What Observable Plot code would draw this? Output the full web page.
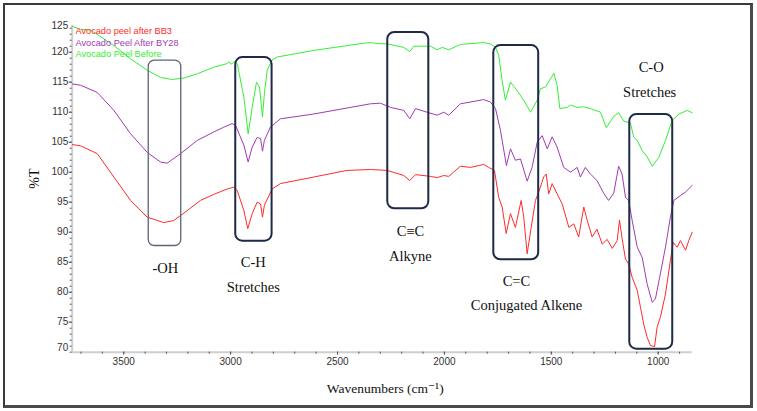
<!DOCTYPE html>
<html><head><meta charset="utf-8">
<script src="https://cdn.jsdelivr.net/npm/d3@7"></script>
<script src="https://cdn.jsdelivr.net/npm/@observablehq/plot@0.6"></script>
<style>
html,body{margin:0;padding:0;background:#fff;}
#wrap{position:relative;width:757px;height:411px;overflow:hidden;background:#fff;}
#frame{position:absolute;left:3px;top:3px;width:750px;height:405px;box-sizing:border-box;border:2px solid #3a3a3a;border-right:3px solid #4a4a4a;border-bottom:3px solid #4a4a4a;pointer-events:none;}
#chart{position:absolute;left:0;top:0;}
</style></head><body>
<div id="wrap"><div id="chart"></div><div id="frame"></div></div>
<script>
// ---- series ----
const seriesNames = ["Avocado peel after BB3", "Avocado Peel After BY28", "Avocado Peel Before"];
const seriesColors = ["#ff2b2b", "#a13ab3", "#33f033"];

const wnBefore = [3740,3702,3655,3546,3468,3390,3328,3273,3219,3156,3079,3016,3009,2996,2985,2969,2938,2918,2899,2879,2865,2851,2842,2829,2806,2782,2611,2455,2377,2346,2299,2268,2190,2162,2143,2065,2034,2010,1980,1925,1816,1785,1761,1746,1730,1715,1691,1660,1629,1597,1566,1551,1527,1488,1473,1460,1426,1410,1379,1348,1317,1270,1243,1208,1185,1161,1130,1114,1098,1075,1052,1028,997,966,935,903,864,841];
const tBefore  = [124.3,123.8,123.7,121.1,118.9,117.0,115.8,115.45,115.7,116.4,117.5,118.1,118.4,118.0,118.4,118.1,112.5,106.4,110.8,115.0,114.2,109.2,113.1,117.0,118.7,119.2,120.3,121.1,121.5,121.6,121.4,121.4,120.8,120.1,121.0,121.0,120.4,120.8,120.4,121.3,121.6,121.4,120.8,119.5,115.3,112.0,115.0,113.6,112.0,110.0,112.0,113.9,114.2,116.5,114.5,110.6,110.8,111.2,110.8,110.9,110.6,110.0,107.4,109.3,109.9,108.5,108.2,105.8,105.3,103.6,102.6,101.0,102.5,105.3,108.6,109.7,110.3,109.9];

const wnBY28 = [3740,3702,3624,3546,3468,3390,3328,3297,3234,3156,3079,3032,2993,2977,2938,2918,2899,2876,2860,2851,2842,2814,2767,2611,2455,2346,2299,2252,2190,2162,2135,2081,2034,2003,1980,1925,1816,1785,1761,1738,1710,1691,1668,1644,1613,1590,1566,1543,1519,1496,1473,1442,1410,1379,1364,1341,1317,1286,1255,1232,1208,1185,1169,1153,1138,1122,1098,1075,1052,1028,1013,993,966,943,927,896,872,841];
const tBY28  = [114.7,114.5,113.3,110.3,106.4,103.3,101.7,101.5,103.1,105.3,106.7,107.5,108.1,107.8,104.5,101.7,104.2,105.8,105.6,103.5,105.3,107.5,108.9,109.7,110.7,111.4,111.5,110.8,110.3,108.9,110.6,110.0,109.5,110.0,109.5,111.4,112.1,111.7,110.6,107.0,101.1,103.9,102.0,102.2,98.5,100.8,105.0,106.1,103.9,105.9,104.2,100.8,100.0,100.8,99.2,100.8,99.7,98.6,96.5,95.3,96.5,101.0,99.7,95.8,95.3,92.0,87.5,85.8,81.4,78.3,78.9,82.5,87.5,92.5,95.3,96.1,96.7,97.8];

const wnBB3 = [3740,3702,3624,3546,3468,3390,3313,3266,3203,3141,3079,3016,2985,2969,2938,2920,2899,2876,2860,2851,2842,2806,2767,2611,2455,2346,2268,2190,2162,2135,2065,2034,2003,1980,1925,1878,1816,1793,1766,1746,1730,1711,1691,1668,1641,1629,1613,1594,1574,1551,1536,1524,1512,1496,1473,1449,1418,1395,1372,1348,1332,1309,1286,1262,1239,1215,1192,1181,1169,1153,1138,1122,1098,1083,1068,1052,1036,1017,1005,990,966,943,930,911,896,872,857,841];
const tBB3  = [104.6,104.4,103.1,99.2,95.3,92.5,91.6,91.95,93.6,95.3,96.3,97.2,97.5,96.95,93.6,90.6,93.1,95.0,94.7,92.5,94.5,97.2,98.1,99.2,100.3,100.45,100.3,99.45,98.6,99.6,99.3,99.1,99.45,99.3,101.0,100.8,101.3,100.8,100.3,95.8,94.2,89.8,93.1,90.8,95.3,92.5,86.4,90.8,95.3,97.5,99.2,99.7,96.4,98.1,96.4,94.7,90.8,91.4,89.2,94.2,91.95,89.2,90.5,88.0,88.8,87.3,88.6,92.0,89.0,85.5,84.7,82.5,80.3,77.5,74.7,72.5,71.1,70.95,74.2,75.8,79.7,85.3,88.3,87.5,88.6,87.0,88.6,90.0];

// ---- axes ----
const xTicks = [3500, 3000, 2500, 2000, 1500, 1000];
const xMinor = d3.range(900, 3701, 100);
const yTicks = [75, 80, 85, 90, 95, 100, 105, 110, 115, 120];
const yMinor = d3.range(70, 125, 1);

// ---- boxes & annotations ----
const boxName = ["OH", "CH", "Alkyne", "Alkene", "CO"];
const boxX1 = [3383, 2976, 2265, 1769, 1133];
const boxX2 = [3231, 2806, 2073, 1559, 932];
const boxY1 = [118.6, 119.1, 123.3, 121.1, 109.6];
const boxY2 = [87.7, 88.5, 93.9, 85.4, 70.5];

const annText = ["-OH", "C-H", "Stretches", "C\u2261C", "Alkyne", "C=C", "Conjugated Alkene", "C-O", "Stretches"];
const annX = [3305, 2894, 2894, 2159, 2159, 1663, 1616, 1033, 1040];
const annY = [83.95, 84.95, 80.8, 90.2, 85.95, 81.8, 77.8, 117.4, 113.3];

const spectra = [
  ...wnBefore.map((w, i) => ({series: seriesNames[2], wn: w, t: tBefore[i]})),
  ...wnBY28.map((w, i) => ({series: seriesNames[1], wn: w, t: tBY28[i]})),
  ...wnBB3.map((w, i) => ({series: seriesNames[0], wn: w, t: tBB3[i]}))
];
const boxes = boxName.map((n, i) => ({name: n, x1: boxX1[i], x2: boxX2[i], y1: boxY1[i], y2: boxY2[i]}));
const anns = annText.map((t, i) => ({text: t, x: annX[i], y: annY[i]}));

const serif = "'Liberation Serif', 'DejaVu Serif', serif";
const sans = "'Liberation Sans', Arial, sans-serif";

const chart = Plot.plot({
  width: 757, height: 411,
  marginLeft: 71.7, marginRight: 65.3, marginTop: 24.7, marginBottom: 59.3,
  x: {domain: [3741, 841]},
  y: {domain: [70, 124.5]},
  color: {domain: seriesNames, range: seriesColors},
  style: {fontFamily: sans, background: "transparent", overflow: "visible"},
  marks: [
    Plot.ruleY([70], {stroke: "#cfcfcf", strokeWidth: 2}),
    Plot.ruleX([3741], {stroke: "#cfcfcf", strokeWidth: 2}),
    Plot.axisX({ticks: xMinor, tickSize: 2, tickFormat: () => "", stroke: "#555", label: null}),
    Plot.axisX({ticks: xTicks, tickSize: 3, tickPadding: 3, fontSize: 10, fill: "#333", stroke: "#555", label: null, tickFormat: d => String(d)}),
    Plot.axisY({ticks: yMinor, tickSize: 2, tickFormat: () => "", stroke: "#555", label: null}),
    Plot.axisY({ticks: yTicks, tickSize: 3, tickPadding: 1, fontSize: 10, fill: "#333", stroke: "#555", label: null}),
    Plot.axisY({ticks: [125], tickSize: 0, tickPadding: 4, dy: 4, fontSize: 10, fill: "#333", label: null}),
    Plot.axisY({ticks: [70], tickSize: 0, tickPadding: 4, dy: -4, fontSize: 10, fill: "#333", label: null}),
    Plot.line(spectra, {x: "wn", y: "t", z: "series", stroke: "series", strokeWidth: 1}),
    Plot.rect(boxes, {filter: d => d.name === "OH", x1: "x1", x2: "x2", y1: "y1", y2: "y2", rx: 6, fill: "none", stroke: "#5b6478", strokeWidth: 1.3}),
    Plot.rect(boxes, {filter: d => d.name !== "OH", x1: "x1", x2: "x2", y1: "y1", y2: "y2", rx: 7, fill: "none", stroke: "#1d2a48", strokeWidth: 2}),
    Plot.text(anns, {x: "x", y: "y", text: "text", fontFamily: serif, fontSize: 14.5, fill: "#111"}),
    ...seriesNames.map((n, i) => Plot.text([n], {frameAnchor: "top-left", dx: 3.3, dy: 2.6 + i * 11.35, fill: seriesColors[i], fontSize: 9.2, fontFamily: sans, textAnchor: "start", style: "letter-spacing:0.5px"})),
    Plot.text(["%T"], {frameAnchor: "left", dx: -38, rotate: -90, fontFamily: serif, fontSize: 14, fill: "#111"}),
    Plot.text(["Wavenumbers (cm\u207B\u00B9)"], {frameAnchor: "bottom", dx: 3, dy: 41, fontFamily: serif, fontSize: 13.5, fill: "#111"})
  ]
});
document.getElementById("chart").appendChild(chart);
</script>
</body></html>
